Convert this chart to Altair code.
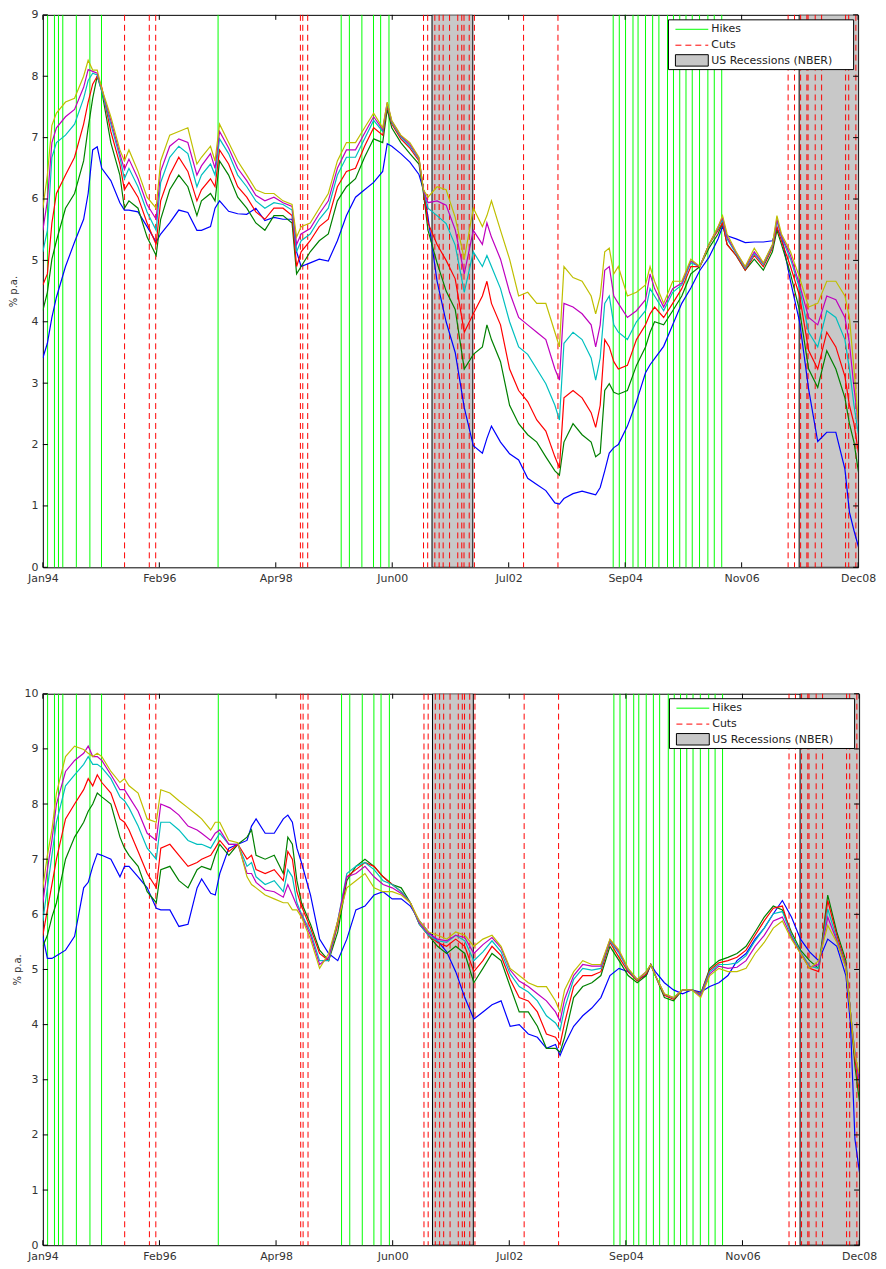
import altair as alt
import pandas as pd
from datetime import date

START = date(1994, 1, 3)
END = date(2008, 12, 31)
SPAN = (END - START).days
DAYS_PER_MONTH = 30.4375

TICK_LABELS = ["Jan94", "Feb96", "Apr98", "Jun00", "Jul02", "Sep04", "Nov06", "Dec08"]
LEGEND_LABELS = ["Hikes", "Cuts", "US Recessions (NBER)"]
Y_TITLE = "% p.a."

HIKES = ["1994-02-04", "1994-03-22", "1994-04-18", "1994-05-17", "1994-08-16", "1994-11-15",
         "1995-02-01", "1997-03-25", "1999-06-30", "1999-08-24", "1999-11-16", "2000-02-02",
         "2000-03-21", "2000-05-16", "2004-06-30", "2004-08-10", "2004-09-21", "2004-11-10",
         "2004-12-14", "2005-02-02", "2005-03-22", "2005-05-03", "2005-06-30", "2005-08-09",
         "2005-09-20", "2005-11-01", "2005-12-13", "2006-01-31", "2006-03-28", "2006-05-10",
         "2006-06-29"]
CUTS = ["1995-07-06", "1995-12-19", "1996-01-31", "1998-09-29", "1998-10-15", "1998-11-17",
        "2001-01-03", "2001-01-31", "2001-03-20", "2001-04-18", "2001-05-15", "2001-06-27",
        "2001-08-21", "2001-09-17", "2001-10-02", "2001-11-06", "2001-12-11", "2002-11-06",
        "2003-06-25", "2007-09-18", "2007-10-31", "2007-12-11", "2008-01-22", "2008-01-30",
        "2008-03-18", "2008-04-30", "2008-10-08", "2008-10-29", "2008-12-16"]
REC_START = ["2001-03-01", "2007-12-01"]
REC_END = ["2001-11-30", "2009-06-30"]

SERIES_COLORS = ["#0000ff", "#008000", "#ff0000", "#00bfbf", "#bf00bf", "#bfbf00"]

# ---------------- top panel (months after Jan 1994) ----------------
TOP_M = [0, 1, 2, 3, 5, 7, 9, 10, 11, 12, 13, 15, 17, 18, 19, 21, 23, 25, 26, 28, 30, 32, 34, 35,
         37, 38, 39, 41, 43, 45, 47, 49, 51, 53, 55, 56, 57, 59, 61, 63, 65, 67, 69, 71, 73, 75,
         76, 77, 79, 81, 83, 84, 85, 87, 89, 91,
         93, 95, 97, 98, 99, 101, 103, 105, 107, 109, 111, 113, 114, 115, 117, 119, 121, 122, 123,
         124, 125, 126, 127, 129, 131, 133, 134, 135, 137, 139, 141, 143, 145, 147, 149, 150, 151,
         153, 155, 157, 159, 161, 162, 163, 165, 167, 169, 171, 173, 175, 177, 178, 179, 180]

TOP_BLUE = [3.41, 3.65, 4.07, 4.4, 4.9, 5.3, 5.67, 6.09, 6.8, 6.85, 6.5, 6.3, 5.94, 5.82, 5.82, 5.79,
            5.55, 5.3, 5.43, 5.61, 5.82, 5.78, 5.49, 5.49, 5.55, 5.85, 5.97, 5.8, 5.76, 5.75, 5.85,
            5.65, 5.7, 5.67, 5.67, 5.14, 4.9, 4.96, 5.02, 4.99, 5.32, 5.73, 6.03, 6.15, 6.27, 6.45,
            6.9, 6.86, 6.74, 6.6, 6.4, 6.15, 5.7, 4.66, 4.0, 3.5,
            2.6, 1.98, 1.86, 2.1, 2.3, 2.04, 1.85, 1.75, 1.45, 1.35, 1.25, 1.05, 1.03, 1.12, 1.2,
            1.24, 1.2, 1.18, 1.3, 1.57, 1.86, 1.95, 2.0, 2.3, 2.7, 3.17, 3.3, 3.4, 3.6, 3.95, 4.3,
            4.55, 4.84, 5.05, 5.35, 5.55, 5.4, 5.35, 5.29, 5.3, 5.3, 5.32, 5.5, 5.4, 4.66, 4.0, 2.9,
            2.05, 2.2, 2.2, 1.6, 0.9, 0.6, 0.33]
TOP_GREEN = [4.18, 4.48, 5.02, 5.32, 5.85, 6.09, 6.62, 7.16, 7.64, 8.0, 7.76, 6.92, 6.39, 5.85, 5.97,
             5.85, 5.38, 5.08, 5.67, 6.15, 6.39, 6.2, 5.73, 5.97, 6.09, 5.97, 6.62, 6.39, 6.03, 5.85,
             5.61, 5.49, 5.73, 5.73, 5.61, 4.78, 4.9, 5.14, 5.32, 5.43, 5.97, 6.2, 6.33, 6.68, 6.98,
             6.92, 7.46, 7.16, 6.92, 6.74, 6.57, 6.09, 5.49, 4.96, 4.5, 4.2,
             3.23, 3.47, 3.59, 3.95, 3.71, 3.35, 2.64, 2.34, 2.16, 2.04, 1.8, 1.57, 1.5, 2.04, 2.34,
             2.16, 2.04, 1.8, 1.86, 2.88, 2.99, 2.85, 2.82, 2.88, 3.29, 3.59, 3.83, 4.0, 3.95, 4.18,
             4.42, 4.78, 4.9, 5.2, 5.43, 5.61, 5.26, 5.08, 4.84, 5.02, 4.84, 5.14, 5.49, 5.26, 4.78,
             4.18, 3.23, 2.93, 3.53, 3.23, 2.76, 2.34, 2.04, 1.55]
TOP_RED = [4.6, 4.78, 5.61, 6.09, 6.39, 6.68, 7.22, 7.58, 7.87, 8.0, 7.82, 7.1, 6.57, 6.15, 6.27, 6.03,
           5.61, 5.26, 5.97, 6.39, 6.68, 6.45, 5.97, 6.15, 6.33, 6.2, 6.8, 6.57, 6.2, 6.03, 5.79,
           5.67, 5.85, 5.85, 5.73, 4.9, 5.14, 5.32, 5.55, 5.67, 6.2, 6.45, 6.5, 6.86, 7.16, 7.04,
           7.52, 7.22, 6.98, 6.83, 6.62, 6.15, 5.61, 5.26, 5.0, 4.7,
           3.83, 4.13, 4.42, 4.66, 4.3, 3.95, 3.23, 2.88, 2.7, 2.4, 2.22, 1.8, 1.62, 2.76, 2.88,
           2.76, 2.52, 2.28, 2.64, 3.71, 3.59, 3.35, 3.23, 3.29, 3.71, 3.95, 4.13, 4.24, 4.07, 4.3,
           4.54, 4.9, 4.9, 5.26, 5.49, 5.61, 5.26, 5.08, 4.84, 5.08, 4.9, 5.2, 5.55, 5.32, 4.9,
           4.42, 3.53, 3.23, 3.83, 3.59, 3.11, 2.64, 2.34, 1.86]
TOP_CYAN = [5.14, 5.49, 6.68, 6.92, 7.04, 7.22, 7.64, 7.93, 8.05, 8.02, 7.76, 7.22, 6.68, 6.33, 6.5,
            6.2, 5.79, 5.49, 6.27, 6.68, 6.86, 6.74, 6.2, 6.39, 6.57, 6.39, 6.98, 6.74, 6.39, 6.2,
            5.97, 5.85, 5.94, 5.91, 5.82, 5.14, 5.32, 5.43, 5.67, 5.85, 6.39, 6.68, 6.68, 6.98, 7.28,
            7.1, 7.55, 7.25, 7.01, 6.86, 6.65, 6.15, 5.85, 5.73, 5.6, 5.25,
            4.48, 5.14, 4.9, 5.08, 4.9, 4.54, 4.0, 3.59, 3.47, 3.23, 2.99, 2.64, 2.4, 3.65, 3.83,
            3.71, 3.41, 3.05, 3.41, 4.3, 4.42, 3.95, 3.83, 3.71, 4.0, 4.18, 4.54, 4.42, 4.18, 4.48,
            4.6, 4.96, 4.9, 5.26, 5.52, 5.67, 5.35, 5.11, 4.87, 5.11, 4.93, 5.23, 5.64, 5.38, 5.02,
            4.54, 3.83, 3.59, 4.18, 4.07, 3.71, 3.23, 2.64, 2.16]
TOP_MAGENTA = [5.49, 5.97, 6.92, 7.16, 7.34, 7.46, 7.82, 8.11, 8.08, 8.05, 7.79, 7.28, 6.74, 6.48,
               6.65, 6.33, 5.91, 5.67, 6.45, 6.86, 6.98, 6.92, 6.39, 6.54, 6.74, 6.5, 7.1, 6.83, 6.5,
               6.3, 6.06, 5.97, 6.03, 5.94, 5.88, 5.26, 5.43, 5.52, 5.76, 5.97, 6.5, 6.8, 6.8, 7.07,
               7.34, 7.13, 7.57, 7.27, 7.03, 6.89, 6.67, 6.15, 5.94, 5.97, 5.9, 5.5,
               4.78, 5.49, 5.26, 5.61, 5.38, 5.02, 4.48, 4.07, 3.95, 3.83, 3.71, 3.23, 3.05, 4.3,
               4.24, 4.13, 3.95, 3.59, 3.95, 4.84, 4.9, 4.42, 4.3, 4.07, 4.18, 4.36, 4.78, 4.54, 4.24,
               4.54, 4.63, 4.99, 4.9, 5.26, 5.54, 5.7, 5.38, 5.13, 4.89, 5.14, 4.95, 5.25, 5.67, 5.4,
               5.08, 4.6, 4.07, 3.95, 4.42, 4.36, 4.07, 3.65, 2.93, 2.34]
TOP_YELLOW = [5.85, 6.39, 7.2, 7.4, 7.58, 7.64, 8.0, 8.26, 8.1, 8.1, 7.8, 7.34, 6.8, 6.62, 6.8, 6.45,
              6.03, 5.85, 6.62, 7.04, 7.1, 7.16, 6.57, 6.68, 6.86, 6.62, 7.22, 6.92, 6.62, 6.39, 6.15,
              6.09, 6.09, 5.97, 5.91, 5.38, 5.55, 5.61, 5.85, 6.09, 6.62, 6.92, 6.92, 7.16, 7.4, 7.16,
              7.58, 7.28, 7.04, 6.92, 6.68, 6.15, 6.03, 6.2, 6.15, 5.7,
              5.02, 5.85, 5.55, 5.73, 5.97, 5.49, 5.02, 4.42, 4.48, 4.3, 4.3, 3.83, 3.59, 4.9, 4.72,
              4.66, 4.42, 4.13, 4.42, 5.14, 5.2, 4.78, 4.9, 4.42, 4.48, 4.6, 4.9, 4.66, 4.3, 4.66,
              4.66, 5.02, 4.9, 5.26, 5.55, 5.73, 5.43, 5.14, 4.9, 5.2, 4.96, 5.26, 5.73, 5.43, 5.14,
              4.72, 4.24, 4.3, 4.66, 4.66, 4.42, 4.07, 3.23, 2.34]

# ---------------- bottom panel ----------------
BOT_M = [0, 1, 2, 3, 5, 7, 9, 10, 11, 12, 13, 15, 17, 18, 19, 21, 23, 25, 26, 28, 30, 32, 34, 35,
         37, 38, 39, 41, 43, 45, 46, 47, 49, 51, 53, 54, 55, 56, 57, 59, 61, 63, 65, 67, 69, 71,
         73, 75, 77, 79, 81, 83, 85, 87, 89, 91,
         93, 95, 97, 99, 101, 103, 105, 107, 109, 111, 113, 114, 115, 117, 119, 121, 123, 125, 127,
         129, 131, 133, 134, 135, 137, 139, 141, 143, 145, 147, 149, 151, 153, 155, 157, 159, 161,
         163, 165, 167, 169, 171, 173, 175, 177, 178, 179, 180]

BOT_BLUE = [5.6, 5.2, 5.2, 5.25, 5.35, 5.6, 6.48, 6.58, 6.87, 7.1, 7.07, 7.0, 6.68, 6.87, 6.87, 6.68,
            6.48, 6.11, 6.08, 6.08, 5.78, 5.82, 6.48, 6.64, 6.38, 6.35, 6.74, 7.2, 7.27, 7.34, 7.6,
            7.73, 7.47, 7.47, 7.73, 7.8, 7.67, 7.2, 6.94, 6.35, 5.55, 5.29, 5.16, 5.55, 6.08, 6.15,
            6.35, 6.41, 6.28, 6.28, 6.15, 5.88, 5.68, 5.52, 5.32, 4.96,
            4.49, 4.1, 4.23, 4.36, 4.43, 3.97, 4.0, 3.83, 3.77, 3.57, 3.64, 3.44, 3.64, 3.97, 4.16,
            4.3, 4.49, 4.89, 5.02, 4.96, 4.82, 4.89, 5.09, 4.96, 4.76, 4.63, 4.56, 4.63, 4.59, 4.69,
            4.76, 4.89, 5.16, 5.29, 5.55, 5.75, 6.01, 6.25, 5.95, 5.55, 5.32, 5.16, 5.55, 5.42, 4.89,
            4.03, 1.92, 1.32]
BOT_GREEN = [5.42, 5.62, 5.95, 6.21, 7.0, 7.4, 7.67, 7.87, 8.0, 8.2, 8.13, 8.0, 7.4, 7.2, 7.07, 6.87,
             6.41, 6.21, 6.81, 6.87, 6.61, 6.48, 6.81, 6.87, 6.81, 7.07, 7.27, 7.07, 7.27, 7.4, 7.53,
             7.07, 7.0, 7.07, 6.74, 7.4, 7.27, 6.61, 6.21, 5.82, 5.35, 5.16, 5.68, 6.61, 6.87, 7.0,
             6.87, 6.68, 6.54, 6.48, 6.21, 5.82, 5.62, 5.42, 5.29, 5.42,
             5.29, 4.76, 5.02, 5.29, 5.16, 4.69, 4.23, 4.23, 3.97, 3.57, 3.57, 3.5, 3.77, 4.49, 4.69,
             4.76, 4.89, 5.42, 5.16, 4.89, 4.76, 4.89, 5.09, 4.89, 4.49, 4.43, 4.63, 4.63, 4.56, 5.02,
             5.16, 5.22, 5.29, 5.42, 5.68, 5.95, 6.15, 6.08, 5.68, 5.35, 5.16, 5.02, 6.35, 5.68, 5.16,
             4.23, 3.24, 2.6]
BOT_RED = [5.62, 6.08, 6.54, 7.0, 7.73, 8.0, 8.26, 8.46, 8.33, 8.53, 8.39, 8.2, 7.73, 7.67, 7.53, 7.14,
           6.74, 6.48, 7.2, 7.27, 7.07, 6.87, 6.94, 7.0, 7.07, 7.2, 7.34, 7.14, 7.27, 7.0, 7.07, 6.81,
           6.74, 6.81, 6.61, 7.14, 7.0, 6.41, 6.15, 5.75, 5.29, 5.16, 5.82, 6.68, 6.81, 6.94, 6.87,
           6.68, 6.54, 6.41, 6.21, 5.82, 5.62, 5.49, 5.42, 5.55,
           5.42, 4.96, 5.16, 5.42, 5.25, 4.82, 4.49, 4.43, 4.23, 3.83, 3.77, 3.64, 4.03, 4.69, 4.89,
           4.89, 4.96, 5.49, 5.22, 4.96, 4.79, 4.92, 5.09, 4.89, 4.53, 4.46, 4.63, 4.63, 4.56, 4.99,
           5.12, 5.16, 5.22, 5.35, 5.62, 5.88, 6.11, 6.15, 5.62, 5.29, 5.02, 4.96, 6.25, 5.62, 5.09,
           4.23, 3.37, 2.78]
BOT_CYAN = [5.88, 6.48, 7.07, 7.67, 8.33, 8.53, 8.72, 8.86, 8.72, 8.72, 8.66, 8.46, 8.13, 8.06, 7.93,
            7.6, 7.2, 7.0, 7.67, 7.67, 7.53, 7.34, 7.27, 7.27, 7.2, 7.34, 7.47, 7.27, 7.27, 6.87, 6.94,
            6.68, 6.54, 6.61, 6.41, 6.81, 6.68, 6.21, 6.01, 5.68, 5.16, 5.16, 5.88, 6.74, 6.87, 6.94,
            6.81, 6.61, 6.54, 6.41, 6.21, 5.82, 5.62, 5.52, 5.49, 5.62,
            5.52, 5.16, 5.32, 5.52, 5.32, 4.92, 4.69, 4.59, 4.43, 4.16, 4.03, 3.9, 4.3, 4.82, 5.02,
            4.99, 5.02, 5.52, 5.29, 4.99, 4.81, 4.95, 5.09, 4.89, 4.55, 4.48, 4.63, 4.63, 4.54, 4.96,
            5.09, 5.09, 5.12, 5.25, 5.52, 5.75, 6.01, 6.05, 5.62, 5.32, 5.06, 5.02, 6.1, 5.55, 5.06,
            4.23, 3.5, 2.91]
BOT_MAGENTA = [6.21, 6.81, 7.34, 8.0, 8.59, 8.79, 8.92, 9.05, 8.86, 8.86, 8.79, 8.53, 8.26, 8.26, 8.13,
               7.87, 7.47, 7.34, 8.0, 7.93, 7.8, 7.6, 7.53, 7.47, 7.34, 7.47, 7.53, 7.27, 7.27, 6.74,
               6.74, 6.58, 6.44, 6.41, 6.31, 6.54, 6.35, 6.15, 5.98, 5.62, 5.09, 5.22, 5.88, 6.68,
               6.74, 6.87, 6.68, 6.54, 6.48, 6.38, 6.21, 5.85, 5.65, 5.55, 5.52, 5.62,
               5.58, 5.29, 5.45, 5.58, 5.39, 4.99, 4.79, 4.69, 4.56, 4.43, 4.23, 4.06, 4.46, 4.89,
               5.09, 5.06, 5.06, 5.54, 5.32, 5.01, 4.82, 4.96, 5.09, 4.89, 4.55, 4.49, 4.63, 4.63,
               4.52, 4.92, 5.06, 5.02, 5.04, 5.16, 5.42, 5.62, 5.88, 5.95, 5.58, 5.3, 5.04, 5.09,
               5.95, 5.52, 5.04, 4.23, 3.47, 2.97]
BOT_YELLOW = [6.48, 7.07, 7.53, 8.2, 8.86, 9.05, 8.99, 8.92, 8.86, 8.92, 8.86, 8.59, 8.39, 8.46, 8.33,
              8.2, 7.73, 7.67, 8.26, 8.2, 8.06, 7.93, 7.8, 7.73, 7.53, 7.67, 7.67, 7.34, 7.3, 6.68,
              6.54, 6.48, 6.35, 6.28, 6.21, 6.21, 6.08, 6.08, 5.95, 5.55, 5.02, 5.29, 5.88, 6.48,
              6.61, 6.74, 6.48, 6.41, 6.41, 6.35, 6.21, 5.88, 5.68, 5.62, 5.55, 5.68,
              5.62, 5.42, 5.55, 5.62, 5.42, 5.02, 4.89, 4.76, 4.69, 4.69, 4.43, 4.23, 4.63, 4.96,
              5.16, 5.09, 5.09, 5.55, 5.35, 5.02, 4.82, 4.96, 5.09, 4.89, 4.56, 4.49, 4.63, 4.63,
              4.49, 4.89, 5.02, 4.96, 4.96, 5.02, 5.29, 5.49, 5.75, 5.88, 5.55, 5.29, 5.02, 5.16,
              5.8, 5.49, 5.02, 4.23, 3.44, 3.1]

FONT = "DejaVu Sans"


def day_of(s):
    y, m, d = (int(p) for p in s.split("-"))
    return (date(y, m, d) - START).days


def panel(months, series, ymax, width, height, title_pad):
    xs = alt.Scale(domain=[0, SPAN], nice=False, zero=False)
    ys = alt.Scale(domain=[0, ymax], nice=False)
    tick_days = [k * SPAN / 7 for k in range(8)]
    label_expr = "[" + ",".join("'%s'" % t for t in TICK_LABELS) + "][round(datum.value*7/%d)]" % SPAN
    xaxis = alt.Axis(values=tick_days, labelExpr=label_expr, title=None, ticks=False, domain=False,
                     grid=False, labelFlush=False, labelOverlap=False, labelPadding=5,
                     labelFont=FONT, labelFontSize=11, labelColor="#333333")
    yaxis = alt.Axis(values=list(range(ymax + 1)), format="d", title=Y_TITLE, ticks=False,
                     domain=False, grid=False, labelPadding=5, labelFont=FONT, labelFontSize=11,
                     labelColor="#333333", titlePadding=title_pad, titleFont=FONT, titleFontSize=10,
                     titleFontWeight="normal", titleColor="#333333")
    X = lambda f: alt.X(f, type="quantitative", scale=xs, axis=xaxis)
    Y = lambda f: alt.Y(f, type="quantitative", scale=ys, axis=yaxis)

    rec_df = pd.DataFrame({"s": [day_of(d) for d in REC_START], "e": [day_of(d) for d in REC_END]})
    hike_df = pd.DataFrame({"d": [day_of(d) for d in HIKES]})
    cut_df = pd.DataFrame({"d": [day_of(d) for d in CUTS]})
    ytick_df = pd.DataFrame({"v": list(range(ymax + 1))})
    xtick_df = pd.DataFrame({"d": tick_days})
    one = pd.DataFrame({"k": [0]})

    layers = [
        alt.Chart(rec_df).mark_rect(fill="#c8c8c8", stroke="#000000", strokeWidth=1, clip=True)
        .encode(x=X("s"), x2="e"),
        alt.Chart(hike_df).mark_rule(color="#00ff00", strokeWidth=1).encode(x=X("d")),
        alt.Chart(cut_df).mark_rule(color="#ff0000", strokeWidth=1, strokeDash=[6, 4]).encode(x=X("d")),
    ]
    days = [m * DAYS_PER_MONTH for m in months]
    for vals, col in zip(series, SERIES_COLORS):
        df = pd.DataFrame({"d": days, "v": vals})
        layers.append(alt.Chart(df).mark_line(color=col, strokeWidth=1.2, clip=True)
                      .encode(x=X("d"), y=Y("v")))
    # inward axis ticks (matlab style)
    layers += [
        alt.Chart(ytick_df).mark_rule(color="#000000").encode(y=Y("v"), x=alt.value(0), x2=alt.value(5)),
        alt.Chart(ytick_df).mark_rule(color="#000000").encode(y=Y("v"), x=alt.value(width - 5), x2=alt.value(width)),
        alt.Chart(xtick_df).mark_rule(color="#000000").encode(x=X("d"), y=alt.value(height - 5), y2=alt.value(height)),
        alt.Chart(xtick_df).mark_rule(color="#000000").encode(x=X("d"), y=alt.value(0), y2=alt.value(5)),
    ]
    # legend box
    lx0 = width - 190.5
    layers += [
        alt.Chart(one).mark_rect(fill="white", stroke="#000000", strokeWidth=1)
        .encode(x=alt.value(lx0), x2=alt.value(width - 4.5), y=alt.value(5), y2=alt.value(55)),
        alt.Chart(one).mark_rule(color="#00ff00", strokeWidth=1)
        .encode(x=alt.value(lx0 + 7), x2=alt.value(lx0 + 40), y=alt.value(14.5)),
        alt.Chart(one).mark_rule(color="#ff0000", strokeWidth=1, strokeDash=[6, 4])
        .encode(x=alt.value(lx0 + 7), x2=alt.value(lx0 + 40), y=alt.value(30.5)),
        alt.Chart(one).mark_rect(fill="#c8c8c8", stroke="#000000", strokeWidth=1)
        .encode(x=alt.value(lx0 + 7), x2=alt.value(lx0 + 40), y=alt.value(40), y2=alt.value(51.5)),
    ]
    for lab, yy in zip(LEGEND_LABELS, [14.5, 30.5, 46]):
        layers.append(alt.Chart(one).mark_text(align="left", baseline="middle", font=FONT,
                                               fontSize=11, color="#222222")
                      .encode(x=alt.value(lx0 + 43), y=alt.value(yy), text=alt.value(lab)))
    return alt.layer(*layers).properties(width=width, height=height)


top = panel(TOP_M, [TOP_BLUE, TOP_GREEN, TOP_RED, TOP_CYAN, TOP_MAGENTA, TOP_YELLOW], 9, 819, 555, 12)
bottom = panel(BOT_M, [BOT_BLUE, BOT_GREEN, BOT_RED, BOT_CYAN, BOT_MAGENTA, BOT_YELLOW], 10, 820, 554, 1)

chart = (
    alt.concat(top, bottom, columns=1, align="none", spacing=103)
    .properties(padding={"left": 0, "top": -3, "right": 0, "bottom": 0}, background="white")
    .configure_view(stroke="#000000", strokeWidth=1)
)

chart.save("out.html", embed_options={"renderer": "svg", "actions": False})
